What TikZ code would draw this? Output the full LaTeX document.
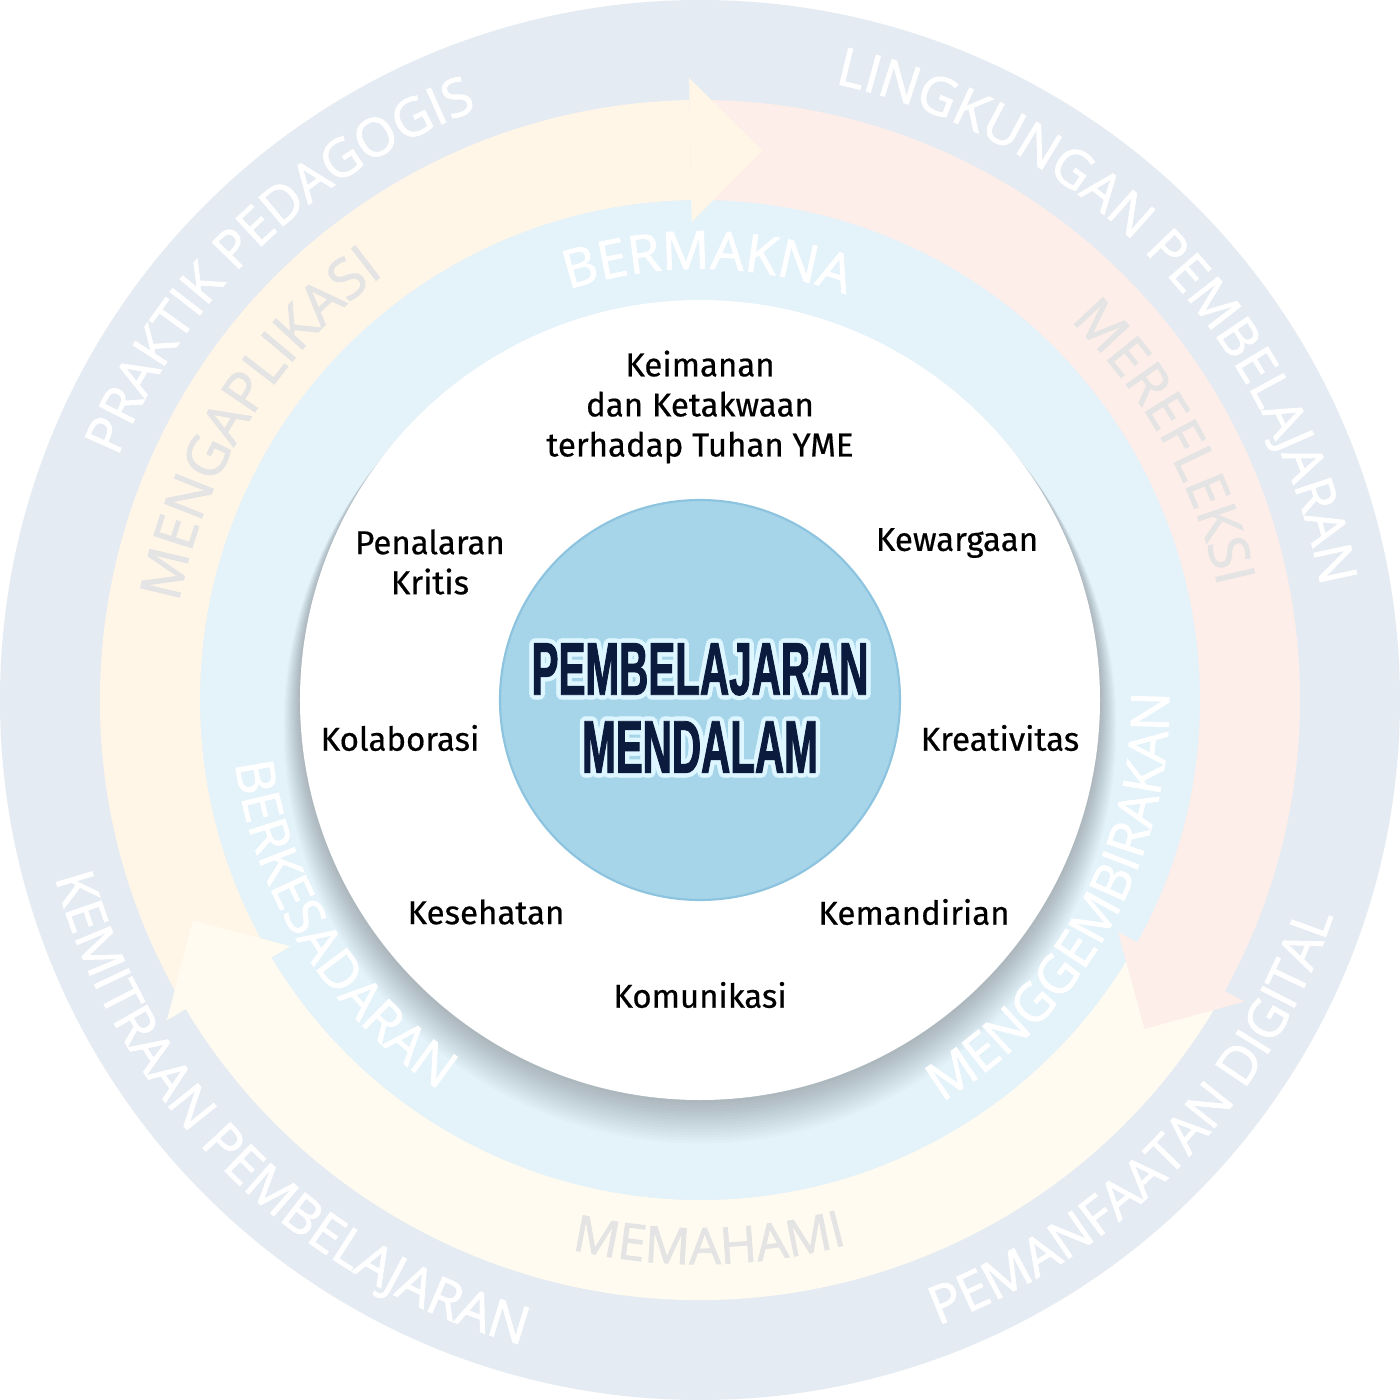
\documentclass[tikz,border=0pt]{standalone}
\usepackage{fontspec}
\setmainfont{Fira Sans}[FakeBold=0.5]
\newfontfamily\ringface[FakeBold=1.6]{Open Sans}
\newfontfamily\titleface[FakeStretch=0.54, FakeBold=1.2]{Liberation Sans}
\usetikzlibrary{decorations.text}
\definecolor{outergrey}{HTML}{E5EBF2}
\definecolor{innerblue}{HTML}{E4F2FA}
\definecolor{arrowsun}{HTML}{FFF6E8}
\definecolor{arrowrose}{HTML}{FDEEE9}
\definecolor{arrowcream}{HTML}{FFFBF0}
\definecolor{corefill}{HTML}{A6D5EA}
\definecolor{coreedge}{HTML}{8CC3DE}
\definecolor{titlenavy}{HTML}{0B1B3D}
\definecolor{titleglow}{HTML}{DDF6FF}
\definecolor{arrowtext}{HTML}{E4E4E4}

\begin{document}
\begin{tikzpicture}[
		% global
		font=\fontsize{9.4pt}{11.4pt}\selectfont,
		% styles
		ringtext/.style n args={3}{decorate, decoration={text along path, text align=center, text color=#1, text={|\fontsize{#2}{#2}\ringface|#3}}},
		pillar/.style={align=center, text=black, inner sep=1pt},
		title/.style={font=\titleface\bfseries\fontsize{21.3pt}{22.2pt}\selectfont, align=center, inner sep=0pt},
		core/.style={circle, draw=coreedge, line width=0.6pt, fill=corefill, minimum size=4cm, inner sep=0pt}
		]
		\useasboundingbox (-7,-7) rectangle (7,7);
		
		% ==========================================
		% Rings
		% ==========================================
		\fill[outergrey] (0,0) circle (7);
		\fill[innerblue] (0,0) circle (5);
		
		% arrow bodies (clockwise)
		\foreach \a/\c in {211/arrowsun, 91/arrowrose, -29/arrowcream}
		\fill[\c] (\a:6) arc[start angle=\a, end angle={\a-120}, radius=6] -- ({\a-120}:5) arc[start angle={\a-120}, end angle=\a, radius=5] -- cycle;
		
		% arrow heads on top of the next body
		\foreach \b/\c in {91/arrowsun, -29/arrowrose, -149/arrowcream}
		\fill[\c] (\b:6.22) -- ({\b-7.5}:5.53) -- (\b:4.78) -- cycle;
		
		% soft shadow under the white disk
		\foreach \i in {1,...,15}
		\fill[black, opacity=0.017] (0,{-0.018*\i}) circle ({4+0.011*\i});
		\fill[white] (0,0) circle (4);
		
		% ==========================================
		% Curved labels
		% ==========================================
		% outer ring
		\path[ringtext={white}{15pt}{PRAKTIK PEDAGOGIS}] (214:6.31) arc[start angle=214, end angle=54, radius=6.31];
		\path[ringtext={white}{15pt}{LINGKUNGAN PEMBELAJARAN}] (124:6.31) arc[start angle=124, end angle=-36, radius=6.31];
		\path[ringtext={white}{15pt}{PEMANFAATAN DIGITAL}] (-124:6.69) arc[start angle=-124, end angle=36, radius=6.69];
		\path[ringtext={white}{15pt}{KEMITRAAN PEMBELAJARAN}] (145:6.69) arc[start angle=145, end angle=305, radius=6.69];
		
		% arrow ring
		\path[ringtext={arrowtext}{16pt}{MENGAPLIKASI}] (228:5.30) arc[start angle=228, end angle=68, radius=5.30];
		\path[ringtext={arrowtext}{15.5pt}{MEREFLEKSI}] (109:5.30) arc[start angle=109, end angle=-51, radius=5.30];
		\path[ringtext={arrowtext}{14.3pt}{MEMAHAMI}] (191:5.64) arc[start angle=191, end angle=351, radius=5.64];
		
		% inner ring
		\path[ringtext={white}{15pt}{BERMAKNA}] (169:4.31) arc[start angle=169, end angle=9, radius=4.31];
		\path[ringtext={white}{15pt}{MENGGEMBIRAKAN}] (-109:4.69) arc[start angle=-109, end angle=51, radius=4.69];
		\path[ringtext={white}{15pt}{BERKESADARAN}] (132:4.69) arc[start angle=132, end angle=292, radius=4.69];
		
		% ==========================================
		% Centre
		% ==========================================
		\node[core] (core) at (0,0) {};
		\foreach \g in {0,30,...,330}
		\node[title, text=titleglow] (glow\g) at ([shift={(\g:0.045)}]0,-0.08) {PEMBELAJARAN\\MENDALAM};
		\node[title, text=titlenavy] (titletext) at (0,-0.08) {PEMBELAJARAN\\MENDALAM};
		
		% eight dimensions
		\node[pillar] (iman) at (0,2.93) {Keimanan\\dan Ketakwaan\\terhadap Tuhan YME};
		\node[pillar] (nalar) at (-2.70,1.38) {Penalaran\\Kritis};
		\node[pillar] (warga) at (2.57,1.57) {Kewargaan};
		\node[pillar] (kolab) at (-3.0,-0.38) {Kolaborasi};
		\node[pillar] (kreatif) at (3.0,-0.38) {Kreativitas};
		\node[pillar] (sehat) at (-2.14,-2.12) {Kesehatan};
		\node[pillar] (mandiri) at (2.14,-2.12) {Kemandirian};
		\node[pillar] (komunikasi) at (0,-2.95) {Komunikasi};
		
	\end{tikzpicture}
\end{document}
